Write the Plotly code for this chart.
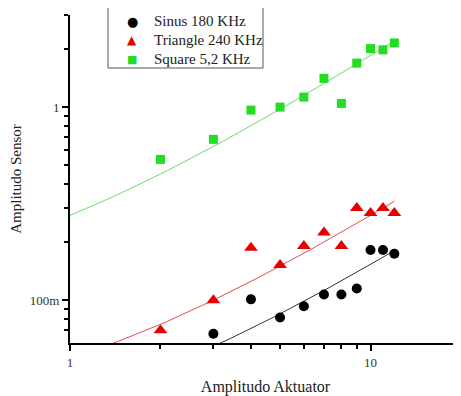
import numpy as np
import plotly.graph_objects as go

# ---- data ----
series_names = ["Sinus 180 KHz", "Triangle 240 KHz", "Square 5,2 KHz"]

sinus_x = [3, 4, 5, 6, 7, 8, 9, 10, 11, 12]
sinus_y = [0.067, 0.101, 0.0813, 0.093, 0.107, 0.107, 0.115, 0.182, 0.182, 0.174]

triangle_x = [2, 3, 4, 5, 6, 7, 8, 9, 10, 11, 12]
triangle_y = [0.0698, 0.100, 0.187, 0.152, 0.191, 0.224, 0.191, 0.300, 0.283, 0.300, 0.283]

square_x = [2, 3, 4, 5, 6, 7, 8, 9, 10, 11, 12]
square_y = [0.536, 0.681, 0.965, 1.00, 1.127, 1.41, 1.045, 1.69, 2.01, 1.98, 2.15]

# linear fit y = a + b*x
fit_intercept = [0.0166, 0.025, 0.10]
fit_slope = [0.01367, 0.025, 0.175]
fit_x_range = [1, 12]

x_tickvals = [1, 10]
x_ticktext = ["1", "10"]
x_minor = [2, 3, 4, 5, 6, 7, 8, 9]
y_tickvals = [0.1, 1]
y_ticktext = ["100m", "1"]
y_minor = [0.07, 0.08, 0.09, 0.2, 0.3, 0.4, 0.5, 0.6, 0.7, 0.8, 0.9, 2, 3]

marker_colors = ["#000000", "#e60000", "#22dd22"]
line_colors = ["#333333", "#e05050", "#66dd66"]
symbols = ["circle", "triangle-up", "square"]
sizes = [10, 12, 9]
legend_glyphs = ["●", "▲", "■"]
legend_glyph_sizes = [13, 12, 11]

FONT = "Liberation Serif"

fig = go.Figure()
xs = [sinus_x, triangle_x, square_x]
ys = [sinus_y, triangle_y, square_y]

xfit = np.linspace(fit_x_range[0], fit_x_range[1], 100)
for i in range(3):
    fig.add_trace(go.Scatter(
        x=xfit, y=fit_intercept[i] + fit_slope[i] * xfit,
        mode="lines", line=dict(color=line_colors[i], width=1),
        showlegend=False, hoverinfo="skip"))

for i in range(3):
    fig.add_trace(go.Scatter(
        x=xs[i], y=ys[i], mode="markers", name=series_names[i],
        marker=dict(symbol=symbols[i], size=sizes[i], color=marker_colors[i],
                    line=dict(width=0)),
        showlegend=False, cliponaxis=False))

axis_common = dict(
    showline=True, linecolor="black", linewidth=2,
    ticks="outside", ticklen=6, tickwidth=1.5, tickcolor="black",
    showgrid=False, zeroline=False, mirror=False, automargin=False,
    tickfont=dict(family=FONT, size=13, color="#333"),
)

fig.update_xaxes(
    type="log", range=[0, np.log10(20)],
    tickmode="array", tickvals=x_tickvals, ticktext=x_ticktext,
    minor=dict(tickmode="array", tickvals=x_minor, ticks="outside",
               ticklen=4, tickwidth=1.5, tickcolor="black"),
    title=dict(text="Amplitudo Aktuator", font=dict(family=FONT, size=16, color="#222")),
    **axis_common)

fig.update_yaxes(
    type="log", range=[np.log10(0.06), np.log10(3)],
    tickmode="array", tickvals=y_tickvals, ticktext=y_ticktext,
    minor=dict(tickmode="array", tickvals=y_minor, ticks="outside",
               ticklen=4, tickwidth=1.5, tickcolor="black"),
    title=dict(text="Amplitudo Sensor", font=dict(family=FONT, size=15, color="#222")),
    **axis_common)

# page body has an 8px margin: shift the figure so the plot area lands at x 70..461, y 15..343
OFF = 8
L, T = 70, 15
W, H = 391, 328
def px2paper(px, py):
    return (px - L) / W, (T + H - py) / H

bx0, by0 = px2paper(108, 68)
bx1, by1 = px2paper(263, 7)
fig.add_shape(type="rect", xref="paper", yref="paper", x0=bx0, y0=by0, x1=bx1, y1=by1,
              line=dict(color="#555", width=1), fillcolor="white", layer="above")
rows_py = [21, 40, 59]
for i in range(3):
    gx, gy = px2paper(132, rows_py[i])
    tx, _ = px2paper(152, rows_py[i])
    fig.add_annotation(x=gx, y=gy, xref="paper", yref="paper", text=legend_glyphs[i],
                       showarrow=False, xanchor="center", yanchor="middle",
                       font=dict(family="DejaVu Sans", size=legend_glyph_sizes[i],
                                 color=marker_colors[i]))
    fig.add_annotation(x=tx, y=gy, xref="paper", yref="paper", text=series_names[i],
                       showarrow=False, xanchor="left", yanchor="middle",
                       font=dict(family=FONT, size=15, color="#222"))

fig.update_layout(
    width=461 - OFF, height=396 - OFF,
    margin=dict(l=L - OFF, r=0, t=T - OFF, b=396 - T - H),
    paper_bgcolor="white", plot_bgcolor="white",
    showlegend=False,
)

fig.write_html("out.html")
